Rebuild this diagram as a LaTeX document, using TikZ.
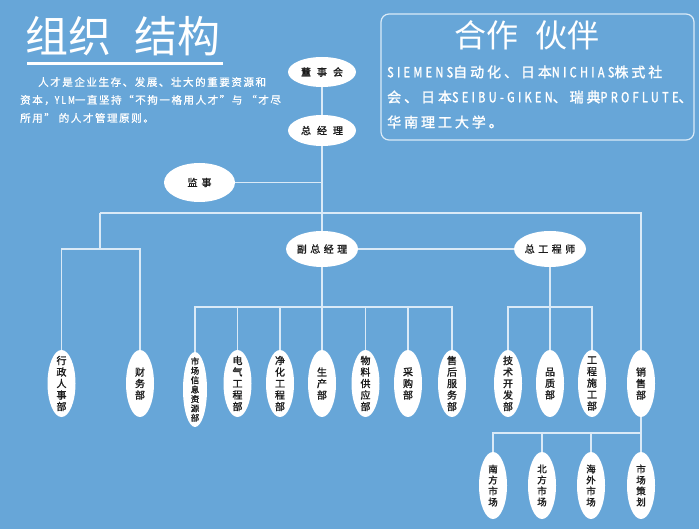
\documentclass[tikz,border=0pt]{standalone}
\usepackage{fontspec}
\usetikzlibrary{shapes.geometric}
\newfontfamily\cjk{Noto Sans CJK SC}
\newfontfamily\cjkb[FakeBold=1.5]{Noto Sans CJK SC}
\newfontfamily\parf[FakeBold=1.2,LetterSpace=15]{Noto Sans CJK SC}
\newfontfamily\parl[FakeBold=1.2,LetterSpace=20,FakeStretch=0.8]{Noto Sans CJK SC}
\newfontfamily\ptf[FakeBold=1.6,LetterSpace=21]{Noto Sans CJK SC}
\newfontfamily\ptl[FakeBold=1.6,LetterSpace=24,FakeStretch=0.78]{Noto Sans CJK SC}
\definecolor{bg}{RGB}{103,166,216}
\definecolor{ln}{RGB}{218,234,247}
\definecolor{tx}{RGB}{28,28,28}
\newcommand\mydept[5][vtx]{\node[vov] (#2) at (#3,#4) {};\node[#1] (#2-t) at (#2) {#5};}
\begin{document}
\begin{tikzpicture}[x=1pt,y=-1pt,
  conn/.style={draw=ln, line width=1.3pt},
  hov/.style={ellipse, fill=white, inner sep=0pt, font=\cjkb\fontsize{10}{10}\selectfont, text=tx},
  vov/.style={ellipse, fill=white, inner sep=0pt, minimum width=28pt, minimum height=67pt},
  vtx/.style={font=\cjkb\fontsize{10}{11.5}\selectfont, text=tx, inner sep=0pt, align=center},
  stx/.style={font=\cjkb\fontsize{8.5}{9.4}\selectfont, text=tx, inner sep=0pt, align=center},
  mtx/.style={font=\cjkb\fontsize{9.5}{11}\selectfont, text=tx, inner sep=0pt, align=center},
  ptext/.style={anchor=west, inner sep=0pt, text=white}]
\useasboundingbox (0,0) rectangle (699,529);
\fill[bg] (0,0) rectangle (699,529);

% title and paragraph
\node[font=\cjk\fontsize{43}{43}\selectfont, text=white, anchor=west, inner sep=0pt] (title) at (25,36) {组织\hspace{0.55em}结构};
\draw[white, line width=3pt] (27,63.5) -- (223,63.5);
\node[ptext, font=\parf\fontsize{10.5}{10.5}\selectfont] (p1) at (38,82) {人才是企业生存、发展、壮大的重要资源和};
\node[ptext, font=\parf\fontsize{10.5}{10.5}\selectfont] (p2) at (20,100) {资本，{\parl YLM}一直坚持“不拘一格用人才”与 “才尽};
\node[ptext, font=\parf\fontsize{10.5}{10.5}\selectfont] (p3) at (20,118) {所用” 的人才管理原则。};

% partners box
\draw[ln, line width=1.2pt, rounded corners=8pt] (381,14) rectangle (694,140);
\node[font=\cjk\fontsize{32}{32}\selectfont, text=white, inner sep=0pt] (pt) at (527,35) {合作\hspace{0.55em}伙伴};
\node[ptext, font=\ptf\fontsize{14}{14}\selectfont] (l1) at (387,72) {{\ptl SIEMENS}自动化、日本{\ptl NICHIAS}株式社};
\node[ptext, font=\ptf\fontsize{14}{14}\selectfont] (l2) at (387,97) {会、日本{\ptl SEIBU-GIKEN}、瑞典{\ptl PROFLUTE}、};
\node[ptext, font=\ptf\fontsize{14}{14}\selectfont] (l3) at (387,122) {华南理工大学。};

% top management
\node[hov, minimum width=68pt, minimum height=30pt] (dsh) at (322,72) {董\hspace{6pt}事\hspace{6pt}会};
\node[hov, minimum width=68pt, minimum height=31pt] (zjl) at (322,130.5) {总\hspace{6pt}经\hspace{6pt}理};
\node[hov, minimum width=71pt, minimum height=39pt] (js) at (199.5,182.5) {监\hspace{4pt}事};
\node[hov, minimum width=72pt, minimum height=36pt] (fzjl) at (322,249) {副\hspace{3.5pt}总\hspace{3.5pt}经\hspace{3.5pt}理};
\node[hov, minimum width=72pt, minimum height=36pt] (zgcs) at (550,249) {总\hspace{3.5pt}工\hspace{3.5pt}程\hspace{3.5pt}师};

% departments
\mydept{xz}{61.5}{383.5}{行\\政\\人\\事\\部}
\mydept{cw}{140}{383.5}{财\\务\\部}
\node[vov, minimum width=24pt, minimum height=75pt] (scxx) at (195,389.5) {};
\node[stx] (scxx-t) at (scxx) {市\\场\\信\\息\\资\\源\\部};
\mydept{dq}{237.5}{383.5}{电\\气\\工\\程\\部}
\mydept{jh}{280}{383.5}{净\\化\\工\\程\\部}
\mydept{sc}{322}{383.5}{生\\产\\部}
\mydept{wl}{365.5}{383.5}{物\\料\\供\\应\\部}
\mydept{cg}{408}{383.5}{采\\购\\部}
\mydept{shfw}{452}{383.5}{售\\后\\服\\务\\部}
\mydept{jskf}{508}{383.5}{技\\术\\开\\发\\部}
\mydept{pz}{550}{383.5}{品\\质\\部}
\mydept{gcsg}{592}{383.5}{工\\程\\施\\工\\部}
\mydept{xs}{641}{383.5}{销\\售\\部}
\mydept[mtx]{nf}{493}{485.5}{南\\方\\市\\场}
\mydept[mtx]{bf}{542}{485.5}{北\\方\\市\\场}
\mydept[mtx]{hw}{591}{485.5}{海\\外\\市\\场}
\mydept[mtx]{schd}{641}{485.5}{市\\场\\策\\划}

% junction points
\coordinate (lt) at (100,213);
\coordinate (lb) at (100,249);
\coordinate (b1) at (322,307);
\coordinate (b2) at (550,307);
\coordinate (b3) at (641,433);

% connectors
\draw[conn] (dsh) -- (zjl);
\draw[conn] (zjl) -- (fzjl);
\draw[conn] (js) -- (js -| zjl);
\draw[conn] (lt) -- (lt -| xs.north) -- (xs.north);
\draw[conn] (lt) -- (lb);
\draw[conn] (xz.north) |- (lb) -| (cw.north);
\draw[conn] (fzjl) -- (zgcs);
\draw[conn] (fzjl) -- (sc);
\draw[conn] (scxx.north) |- (b1) -| (shfw.north);
\foreach \n in {dq,jh,wl,cg} \draw[conn] (\n.north) -- (\n.north |- b1);
\draw[conn] (zgcs) -- (pz);
\draw[conn] (jskf.north) |- (b2) -| (gcsg.north);
\draw[conn] (xs.south) -- (b3);
\draw[conn] (nf.north) |- (b3) -- (schd.north);
\foreach \n in {bf,hw} \draw[conn] (\n.north) -- (\n.north |- b3);
\end{tikzpicture}
\end{document}
